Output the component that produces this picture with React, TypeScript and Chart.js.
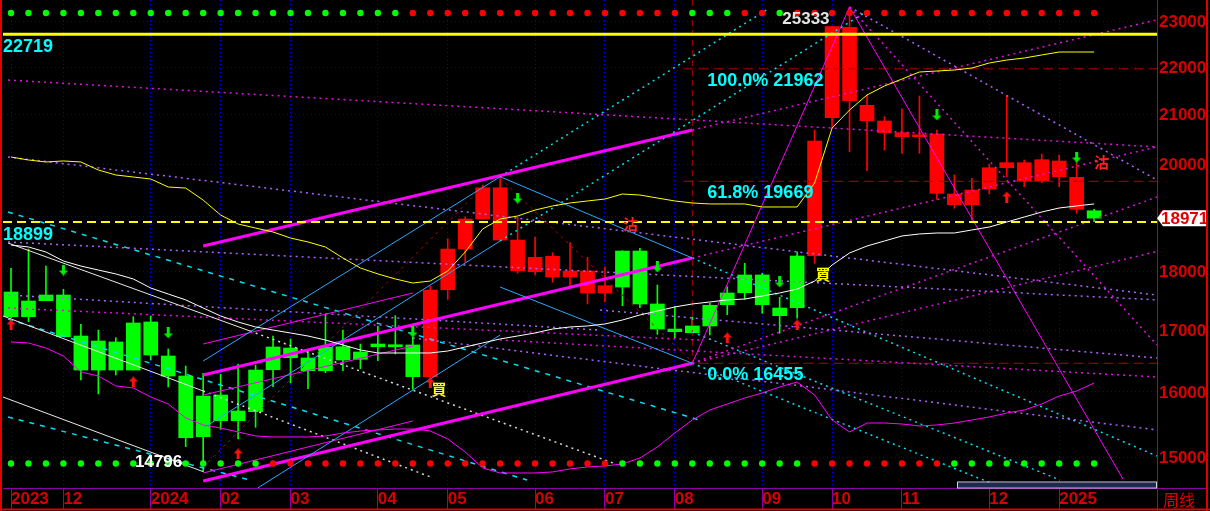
import React, { useEffect, useRef } from "react";
import { Chart, registerables } from "chart.js";
Chart.register(...registerables);

// ---------- axis data ----------
const X_TICK_INDEX = [0, 3, 8, 12, 16, 21, 25, 30, 34, 38, 43, 47, 51, 56, 60];
const X_TICK_LABEL = ["2023", "12", "2024", "02", "03", "04", "05", "06", "07", "08", "09", "10", "11", "12", "2025"];
const Y_TICKS = [15000, 16000, 17000, 18000, 19000, 20000, 21000, 22000, 23000];
const X_MIN = -0.458;
const X_MAX = 65.6;
const Y_MIN = 14561;
const Y_MAX = 23495;
const PERIOD_LABEL = "周线";

// ---------- weekly candles ----------
const OPEN = [17646, 17224, 17496, 17594, 16901, 16346, 16802, 16346, 17135, 16573, 16251, 15312, 15951, 15554, 15692, 16351, 16703, 16540, 16335, 16724, 16519, 16724, 16757, 16753, 16240, 17685, 18405, 18955, 19545, 18568, 18001, 18274, 17908, 18013, 17629, 17732, 18369, 17440, 17017, 16956, 17068, 17428, 17634, 17943, 17371, 17376, 18285, 20934, 22874, 21190, 20866, 20629, 20548, 20602, 19425, 19223, 19520, 19932, 20031, 19674, 20064, 19746, 19109];
const HIGH = [18061, 18405, 18101, 17692, 17096, 17000, 16873, 17224, 17236, 16687, 16411, 16294, 16278, 16443, 16427, 16901, 16851, 16654, 17253, 17000, 16769, 17068, 17241, 16890, 17750, 18592, 18998, 19597, 19757, 18986, 18618, 18339, 18520, 18256, 18089, 18375, 18418, 17767, 17394, 17219, 17452, 17737, 18150, 17973, 17554, 18357, 20683, 22903, 23333, 21405, 20955, 21113, 21384, 20683, 19791, 19727, 20005, 21384, 20084, 20202, 20183, 20216, 19136];
const LOW = [17202, 17140, 17496, 16890, 16187, 15967, 16267, 16346, 16508, 16077, 15163, 14796, 15423, 15278, 15454, 16082, 16140, 16050, 16304, 16335, 16367, 16496, 16606, 16041, 16198, 17520, 18167, 18955, 18568, 17973, 17943, 17815, 17710, 17440, 17479, 17411, 17376, 16929, 16873, 16951, 16918, 17258, 17520, 17281, 16946, 17197, 18150, 20723, 20248, 19873, 20281, 20216, 20216, 19324, 19155, 18936, 19425, 19757, 19565, 19642, 19565, 19061, 18905];
const CLOSE = [17224, 17491, 17594, 16890, 16346, 16818, 16346, 17118, 16589, 16251, 15297, 15935, 15554, 15703, 16346, 16720, 16545, 16335, 16715, 16508, 16638, 16769, 16724, 16240, 17680, 18405, 18955, 19545, 18568, 18018, 18256, 17908, 18013, 17629, 17755, 18369, 17440, 17017, 16973, 17068, 17417, 17629, 17943, 17428, 17241, 18280, 20461, 22888, 21286, 20872, 20629, 20548, 20588, 19439, 19223, 19501, 19932, 20031, 19674, 20090, 19757, 19136, 18971];
// trend state per week: 1 = bullish (red), 0 = bearish (green)
const CANDLE_STATE = [0,0,0,0,0,0,0,0,0,0,0,0,0,0,0,0,0,0,0,0,0,0,0,0,1,1,1,1,1,1,1,1,1,1,1,0,0,0,0,0,0,0,0,0,0,0,1,1,1,1,1,1,1,1,1,1,1,1,1,1,1,1,0];
const TOP_SIGNAL = [0,0,0,0,0,0,0,0,0,0,0,0,0,0,0,0,0,0,0,0,0,0,0,1,1,1,1,1,1,1,1,1,1,1,1,1,1,1,1,0,0,0,1,1,0,1,1,1,1,1,1,1,1,1,1,1,1,1,1,1,1,1,1];
const BOTTOM_SIGNAL = [0,0,0,0,0,0,0,0,0,0,0,0,0,0,0,1,1,1,1,1,1,1,1,1,1,1,1,1,1,1,1,1,1,1,1,0,0,0,0,0,0,0,0,0,0,0,1,1,1,1,1,1,1,1,0,0,0,0,0,0,0,0,0];
const TOP_ROW_LEVEL = 23197;
const BOTTOM_ROW_LEVEL = 14916;

// ---------- moving averages ----------
const MA_YELLOW = [20143, 20084, 20045, 20065, 20045, 19888, 19791, 19752, 19713, 19559, 19539, 19310, 19029, 18862, 18788, 18715, 18605, 18533, 18442, 18244, 18066, 17961, 17873, 17802, 17837, 18013, 18352, 18771, 18955, 19011, 19123, 19199, 19255, 19293, 19330, 19425, 19406, 19349, 19293, 19255, 19237, 19237, 19237, 19180, 19180, 19180, 19636, 20723, 21092, 21406, 21595, 21743, 21894, 21915, 21936, 21979, 22088, 22152, 22196, 22262, 22327, 22327, 22327];
const MA_WHITE = [18478, 18442, 18352, 18190, 18101, 18030, 17961, 17873, 17715, 17611, 17510, 17371, 17236, 17135, 17051, 17000, 16951, 16901, 16835, 16753, 16671, 16622, 16622, 16622, 16622, 16654, 16720, 16786, 16852, 16901, 16951, 17017, 17051, 17068, 17101, 17168, 17253, 17320, 17389, 17440, 17474, 17510, 17525, 17577, 17629, 17697, 17837, 18119, 18334, 18460, 18551, 18642, 18679, 18697, 18697, 18752, 18807, 18899, 18992, 19085, 19161, 19199, 19237];
const MA_MAGENTA = [16802, 16786, 16703, 16573, 16315, 16251, 16093, 16061, 15920, 15811, 15596, 15489, 15443, 15383, 15323, 15308, 15308, 15308, 15323, 15368, 15398, 15413, 15428, 15428, 15398, 15278, 15085, 14850, 14777, 14777, 14777, 14792, 14836, 14865, 14879, 14908, 14996, 15159, 15368, 15565, 15718, 15811, 15904, 15983, 16077, 16156, 15951, 15565, 15383, 15519, 15519, 15504, 15474, 15489, 15519, 15565, 15611, 15672, 15718, 15811, 15935, 16014, 16140];

// ---------- levels & labels ----------
const LEVEL_RESIST = 22719;
const LEVEL_SUPPORT = 18899;
const LAST_PRICE = 18971;
const FIB_LEVELS = [21962, 19669, 16455];
const FIB_LABELS = ["100.0%", "61.8%", "0.0%"];
const FIB_START = 38.5;
const FIB_ANCHOR = 39;
const PEAK_INDEX = 48;
const PEAK_LABEL = "25333";
const TROUGH_INDEX = 11;
const BUY_MARKS = [[24.5, 16040], [46.48, 17950]];
const SELL_MARKS = [[35.46, 18853], [62.42, 20040]];
const UP_ARROWS = [[0, 17085], [7, 16156], [13, 15055], [24, 16140], [41, 16868], [45, 17085], [57, 19368]];
const DOWN_ARROWS = [[3, 18030], [9, 16951], [23, 16968], [29, 19349], [37, 18084], [44, 17820], [53, 20990], [61, 20143]];

// ---------- drawn trend lines (week index, price) ----------
const CHANNEL_TOP = [[11, 18460], [39, 20683]];
const CHANNEL_TOP_EXT = [[39, 20683], [65.6, 23043]];
const CHANNEL_MID = [[11, 16267], [39, 18244]];
const CHANNEL_MID_EXT = [[39, 18244], [65.6, 20344]];
const CHANNEL_LOW = [[11, 14661], [39, 16455]];
const CHANNEL_LOW_EXT = [[39, 16455], [65.6, 18361]];
const THIN_1 = [[11, 16769], [23, 17629]];
const THIN_2 = [[11, 15951], [23, 16736]];
const THIN_3 = [[11, 14777], [23, 15550]];
const APEX_UP = [[39, 16455], [48, 23333]];
const APEX_DOWN = [[48, 23333], [63.65, 14690]];
const FAN_1 = [[11, 16492], [28, 19757]];
const FAN_1_EXT = [[28, 19757], [43.24, 23265]];
const FAN_2 = [[11, 15443], [28, 18551]];
const FAN_2_EXT = [[28, 18551], [49.1, 23265]];
const FAN_3 = [[14.12, 14561], [28, 16918]];
const DROP_1 = [[28, 19757], [39, 18244]];
const DROP_1_EXT = [[39, 18244], [65.6, 15025]];
const DROP_2 = [[28, 17732], [39, 16455]];
const DROP_2_EXT = [[39, 16455], [56.8, 14561]];
const DROP_3 = [[39, 16968], [60.05, 14675]];
const WHITE_0 = [[-0.17, 18514], [13.68, 16984]];
const WHITE_0_EXT = [[13.68, 16984], [34.46, 14923]];
const WHITE_1 = [[-0.46, 17236], [11, 16014]];
const WHITE_1_EXT = [[11, 16014], [24.16, 14705]];
const WHITE_2 = [[-0.46, 15920], [11, 14796]];
const CYAN_1 = [[-0.17, 19085], [39.4, 15565]];
const CYAN_2 = [[-0.17, 15611], [13.68, 14675]];
const CYAN_3 = [[-0.17, 17185], [29.54, 14675]];
const RED_1 = [[11, 14865], [27, 19559]];
const RED_2 = [[28, 19732], [38.87, 16508]];
const DOT_P1 = [[-0.17, 21722], [65.6, 20342]];
const DOT_P2 = [[-0.17, 20143], [65.6, 17594]];
const DOT_P3 = [[-0.17, 18533], [65.6, 17510]];
const DOT_P4 = [[-0.17, 17594], [33.72, 17000]];
const DOT_P5 = [[-0.17, 17371], [39.44, 16835]];
const DOT_V1 = [[33.72, 17338], [65.6, 16540]];
const DOT_V2 = [[27.99, 16835], [65.6, 16235]];
const DOT_V3 = [[23.01, 16868], [65.6, 15413]];
const DOT_F1 = [[48, 23333], [65.6, 16753]];
const DOT_F2 = [[48, 23333], [65.6, 19694]];
const DOT_G1 = [[39, 16455], [65.6, 19368]];
const SWING_MARK = [[39, 23495], [39, 16455]];

// ---------- styles ----------
const FONT = '"Liberation Sans", Arial, sans-serif';
const AXIS_RED = "#D80000";
const GRID_BLUE = "#0000D0";
const PURPLE = "#8C00A8";
const UP_RED = "#FF0000";
const DOWN_GREEN = "#00FF00";
const BLUE = "#2AA8FF";
const CYAN = "#00E0F0";
const MAGENTA = "#FF00FF";
const VIOLET = "#B060FF";
const MAG_DOT = "#E010E0";
const DARK_RED = "#B00000";

function makeArrow(color: string, up: boolean) {
  const c = document.createElement("canvas");
  c.width = 9;
  c.height = 11;
  const g = c.getContext("2d")!;
  g.fillStyle = color;
  g.beginPath();
  if (up) {
    g.moveTo(4.5, 0); g.lineTo(9, 5); g.lineTo(6, 5); g.lineTo(6, 11); g.lineTo(3, 11); g.lineTo(3, 5); g.lineTo(0, 5);
  } else {
    g.moveTo(4.5, 11); g.lineTo(9, 6); g.lineTo(6, 6); g.lineTo(6, 0); g.lineTo(3, 0); g.lineTo(3, 6); g.lineTo(0, 6);
  }
  g.closePath();
  g.fill();
  return c;
}

const pts = (arr: number[][]) => arr.map(([x, y]) => ({ x, y }));
function seg(points: number[][], color: string, width: number, dash: number[] = [], order = 3) {
  return {
    type: "line",
    data: pts(points),
    borderColor: color,
    borderWidth: width,
    borderDash: dash,
    pointRadius: 0,
    pointHoverRadius: 0,
    fill: false,
    tension: 0,
    order,
  };
}
function maLine(values: number[], color: string, width = 1) {
  return {
    type: "line",
    data: values.map((v, i) => ({ x: i, y: v })),
    borderColor: color,
    borderWidth: width,
    pointRadius: 0,
    pointHoverRadius: 0,
    fill: false,
    tension: 0,
    order: 2,
  };
}

const overlay = {
  id: "overlay",
  beforeDraw(chart: any) {
    const { ctx, width, height } = chart;
    ctx.save();
    ctx.fillStyle = "#000000";
    ctx.fillRect(0, 0, width, height);
    ctx.restore();
  },
  afterDraw(chart: any) {
    const { ctx, chartArea: a, scales } = chart;
    const X = (v: number) => scales.x.getPixelForValue(v);
    const Y = (v: number) => scales.y.getPixelForValue(v);
    const W = chart.width;
    const H = chart.height;
    ctx.save();

    // y-axis labels
    ctx.font = `bold 17px ${FONT}`;
    ctx.fillStyle = AXIS_RED;
    ctx.textAlign = "left";
    ctx.textBaseline = "middle";
    Y_TICKS.forEach((v) => ctx.fillText(String(v), a.right + 2, Y(v) + 1));

    // level labels
    ctx.font = `bold 18px ${FONT}`;
    ctx.fillStyle = "#00FFFF";
    ctx.textBaseline = "alphabetic";
    ctx.fillText(String(LEVEL_RESIST), a.left, Y(LEVEL_RESIST) + 17.5);
    ctx.fillText(String(LEVEL_SUPPORT), a.left, Y(LEVEL_SUPPORT) + 17.5);
    FIB_LEVELS.forEach((v, k) => ctx.fillText(`${FIB_LABELS[k]} ${v}`, X(FIB_ANCHOR) + 15, Y(v) + 17));

    // peak / trough
    ctx.font = `bold 17px ${FONT}`;
    ctx.textAlign = "right";
    ctx.fillStyle = "#E4E4E4";
    ctx.fillText(PEAK_LABEL, X(PEAK_INDEX) - 20, Y(HIGH[PEAK_INDEX]) + 17);
    ctx.fillStyle = "#FFFFFF";
    ctx.fillText(String(LOW[TROUGH_INDEX]), X(TROUGH_INDEX) - 21, Y(LOW[TROUGH_INDEX]) - 4.5);

    // buy / sell marks
    ctx.font = 'bold 15px "Noto Sans CJK TC", "Noto Sans CJK SC", sans-serif';
    ctx.textAlign = "center";
    ctx.textBaseline = "middle";
    ctx.fillStyle = "#FFFF00";
    BUY_MARKS.forEach(([i, v]) => ctx.fillText("買", X(i), Y(v)));
    ctx.fillStyle = "#FF2020";
    SELL_MARKS.forEach(([i, v]) => ctx.fillText("沽", X(i), Y(v)));

    // last price tag
    const ly = Y(LAST_PRICE);
    ctx.fillStyle = "#FFFFFF";
    ctx.beginPath();
    ctx.moveTo(a.right, ly);
    ctx.lineTo(a.right + 6, ly - 8);
    ctx.lineTo(W - 3, ly - 8);
    ctx.lineTo(W - 3, ly + 8);
    ctx.lineTo(a.right + 6, ly + 8);
    ctx.closePath();
    ctx.fill();
    ctx.fillStyle = "#E00000";
    ctx.font = `bold 17px ${FONT}`;
    ctx.textAlign = "left";
    ctx.fillText(String(LAST_PRICE), a.right + 4, ly + 1);

    // scroll bar
    ctx.fillStyle = "#1C2A55";
    ctx.fillRect(a.right - 199, a.bottom - 5.5, 198, 5);
    ctx.strokeStyle = "#D0D0D0";
    ctx.lineWidth = 1;
    ctx.strokeRect(a.right - 199.5, a.bottom - 6, 199, 6);

    // frame
    ctx.strokeStyle = PURPLE;
    ctx.beginPath();
    ctx.moveTo(a.right + 0.5, a.bottom);
    ctx.lineTo(a.right + 0.5, H);
    ctx.moveTo(a.right, a.bottom + 0.5);
    ctx.lineTo(W - 3, a.bottom + 0.5);
    ctx.stroke();
    ctx.strokeStyle = "#E00000";
    ctx.lineWidth = 2;
    ctx.beginPath();
    ctx.moveTo(1, 0); ctx.lineTo(1, H);
    ctx.moveTo(W - 3, 0); ctx.lineTo(W - 3, H);
    ctx.moveTo(0, H - 1.5); ctx.lineTo(W, H - 1.5);
    ctx.stroke();

    // period label
    ctx.fillStyle = AXIS_RED;
    ctx.font = '16px "Noto Sans CJK SC", sans-serif';
    ctx.textAlign = "left";
    ctx.textBaseline = "alphabetic";
    ctx.fillText(PERIOD_LABEL, a.right + 6, H - 5);
    ctx.restore();
  },
};

export default function App() {
  const ref = useRef<HTMLCanvasElement>(null);
  useEffect(() => {
    const canvas = ref.current!;
    const idx = OPEN.map((_, i) => i);
    const candleColor = idx.map((i) => (CANDLE_STATE[i] ? UP_RED : DOWN_GREEN));
    const upArrow = makeArrow("#FF1010", true);
    const downArrow = makeArrow("#00EE00", false);
    const dash = [3, 4];
    const dot = [2, 4];

    const datasets: any[] = [
      // candles
      {
        type: "bar",
        data: idx.map((i) => ({ x: i, y: [LOW[i], HIGH[i]] })),
        backgroundColor: candleColor,
        borderWidth: 0,
        barThickness: 1,
        grouped: false,
        order: 11,
      },
      {
        type: "bar",
        data: idx.map((i) => ({ x: i, y: [OPEN[i], CLOSE[i]] })),
        backgroundColor: candleColor,
        borderWidth: 0,
        barThickness: 14,
        minBarLength: 2,
        grouped: false,
        order: 10,
      },
      // dotted / dashed background lines
      seg(DOT_P1, MAG_DOT, 1.5, dot, 6),
      seg(DOT_P2, VIOLET, 1.5, dot, 6),
      seg(DOT_P3, VIOLET, 1.5, dot, 6),
      seg(DOT_P4, VIOLET, 1.5, dot, 6),
      seg(DOT_P5, MAG_DOT, 1.5, dot, 6),
      seg(DOT_V1, VIOLET, 1.5, dot, 6),
      seg(DOT_V2, MAG_DOT, 1.5, dot, 6),
      seg(DOT_V3, VIOLET, 1.5, dot, 6),
      seg(DOT_F1, MAG_DOT, 1.5, dot, 6),
      seg(DOT_F2, VIOLET, 1.5, dot, 6),
      seg(DOT_G1, MAG_DOT, 1.5, dot, 6),
      seg(CHANNEL_TOP_EXT, MAG_DOT, 1.5, dot, 6),
      seg(CHANNEL_MID_EXT, MAG_DOT, 1.5, dot, 6),
      seg(CHANNEL_LOW_EXT, MAG_DOT, 1.5, dot, 6),
      seg(CYAN_1, CYAN, 1.5, [5, 6], 6),
      seg(CYAN_2, CYAN, 1.5, [5, 6], 6),
      seg(CYAN_3, CYAN, 1.5, [5, 6], 6),
      seg(FAN_1_EXT, CYAN, 1.5, dot, 6),
      seg(FAN_2_EXT, CYAN, 1.5, dot, 6),
      seg(DROP_1_EXT, CYAN, 1.5, dot, 6),
      seg(DROP_2_EXT, CYAN, 1.5, dot, 6),
      seg(DROP_3, CYAN, 1.5, dot, 6),
      seg(WHITE_0_EXT, "#D8D8D8", 1.5, dot, 6),
      seg(WHITE_1_EXT, "#D8D8D8", 1.5, dot, 6),
      seg(RED_1, DARK_RED, 1, dash, 6),
      seg(RED_2, DARK_RED, 1, dash, 6),
      seg(SWING_MARK, DARK_RED, 1, [6, 4], 6),
      ...FIB_LEVELS.map((v) => seg([[FIB_START, v], [X_MAX, v]], DARK_RED, 1, [10, 5], 6)),
      // key levels
      seg([[X_MIN, LEVEL_RESIST], [X_MAX, LEVEL_RESIST]], "#FFFF00", 3, [], 3),
      seg([[X_MIN, LEVEL_SUPPORT], [X_MAX, LEVEL_SUPPORT]], "#FFFF00", 2, [9, 5], 3),
      // solid trend lines
      seg(WHITE_0, "#E8E8E8", 1, [], 3),
      seg(WHITE_1, "#E8E8E8", 1, [], 3),
      seg(WHITE_2, "#E8E8E8", 1, [], 3),
      seg(FAN_1, BLUE, 1, [], 3),
      seg(FAN_2, BLUE, 1, [], 3),
      seg(FAN_3, BLUE, 1, [], 3),
      seg(DROP_1, BLUE, 1, [], 3),
      seg(DROP_2, BLUE, 1, [], 3),
      seg(THIN_1, MAGENTA, 1, [], 3),
      seg(THIN_2, MAGENTA, 1, [], 3),
      seg(THIN_3, MAGENTA, 1, [], 3),
      seg(APEX_UP, MAGENTA, 1, [], 3),
      seg(APEX_DOWN, MAGENTA, 1, [], 3),
      seg(CHANNEL_TOP, MAGENTA, 3, [], 3),
      seg(CHANNEL_MID, MAGENTA, 3, [], 3),
      seg(CHANNEL_LOW, MAGENTA, 3, [], 3),
      // moving averages
      maLine(MA_YELLOW, "#FFFF00"),
      maLine(MA_WHITE, "#FFFFFF"),
      maLine(MA_MAGENTA, "#FF00FF"),
      // signal rows
      {
        type: "line",
        showLine: false,
        data: idx.map((i) => ({ x: i, y: TOP_ROW_LEVEL })),
        pointRadius: 3.2,
        pointBorderWidth: 0,
        pointBackgroundColor: idx.map((i) => (TOP_SIGNAL[i] ? UP_RED : DOWN_GREEN)),
        order: 1,
      },
      {
        type: "line",
        showLine: false,
        data: idx.map((i) => ({ x: i, y: BOTTOM_ROW_LEVEL })),
        pointRadius: 3.2,
        pointBorderWidth: 0,
        pointBackgroundColor: idx.map((i) => (BOTTOM_SIGNAL[i] ? UP_RED : DOWN_GREEN)),
        order: 1,
      },
      {
        type: "line",
        showLine: false,
        data: pts(UP_ARROWS),
        pointStyle: upArrow,
        pointRadius: 5,
        order: 0,
      },
      {
        type: "line",
        showLine: false,
        data: pts(DOWN_ARROWS),
        pointStyle: downArrow,
        pointRadius: 5,
        order: 0,
      },
    ];

    const chart = new Chart(canvas, {
      type: "bar",
      data: { datasets },
      options: {
        responsive: false,
        animation: false,
        events: [],
        layout: { padding: { left: 3, right: 0, top: 0, bottom: 0 }, autoPadding: false },
        plugins: { legend: { display: false }, tooltip: { enabled: false }, title: { display: false } },
        scales: {
          x: {
            type: "linear",
            position: "bottom",
            min: X_MIN,
            max: X_MAX,
            bounds: "data",
            offset: false,
            afterBuildTicks: (s: any) => {
              s.ticks = X_TICK_INDEX.map((v) => ({ value: v }));
            },
            afterFit: (s: any) => {
              s.height = 23;
            },
            ticks: {
              autoSkip: false,
              maxRotation: 0,
              minRotation: 0,
              align: "start",
              padding: -20,
              color: AXIS_RED,
              font: { family: FONT, size: 17, weight: "bold" },
              callback: (_v: any, i: number) => X_TICK_LABEL[i] ?? "",
            },
            grid: { offset: false, color: GRID_BLUE, lineWidth: 1, drawTicks: true, tickLength: 21, tickColor: PURPLE, tickWidth: 1 },
            border: { display: true, color: PURPLE, width: 1, dash: [1, 3] },
          },
          y: {
            type: "logarithmic",
            position: "right",
            min: Y_MIN,
            max: Y_MAX,
            bounds: "data",
            afterBuildTicks: (s: any) => {
              s.ticks = Y_TICKS.map((v) => ({ value: v }));
            },
            afterFit: (s: any) => {
              s.width = 53;
            },
            ticks: { display: false },
            grid: { color: GRID_BLUE, lineWidth: 1, drawTicks: false },
            border: { display: true, color: PURPLE, width: 1, dash: [1, 3] },
          },
        },
      } as any,
      plugins: [overlay],
    } as any);
    return () => chart.destroy();
  }, []);

  return (
    <div style={{ width: 1210, height: 511, background: "#000" }}>
      <style>{`html,body{margin:0;padding:0;background:#000;overflow:hidden}`}</style>
      <canvas ref={ref} width={1210} height={511} style={{ display: "block" }} />
    </div>
  );
}
